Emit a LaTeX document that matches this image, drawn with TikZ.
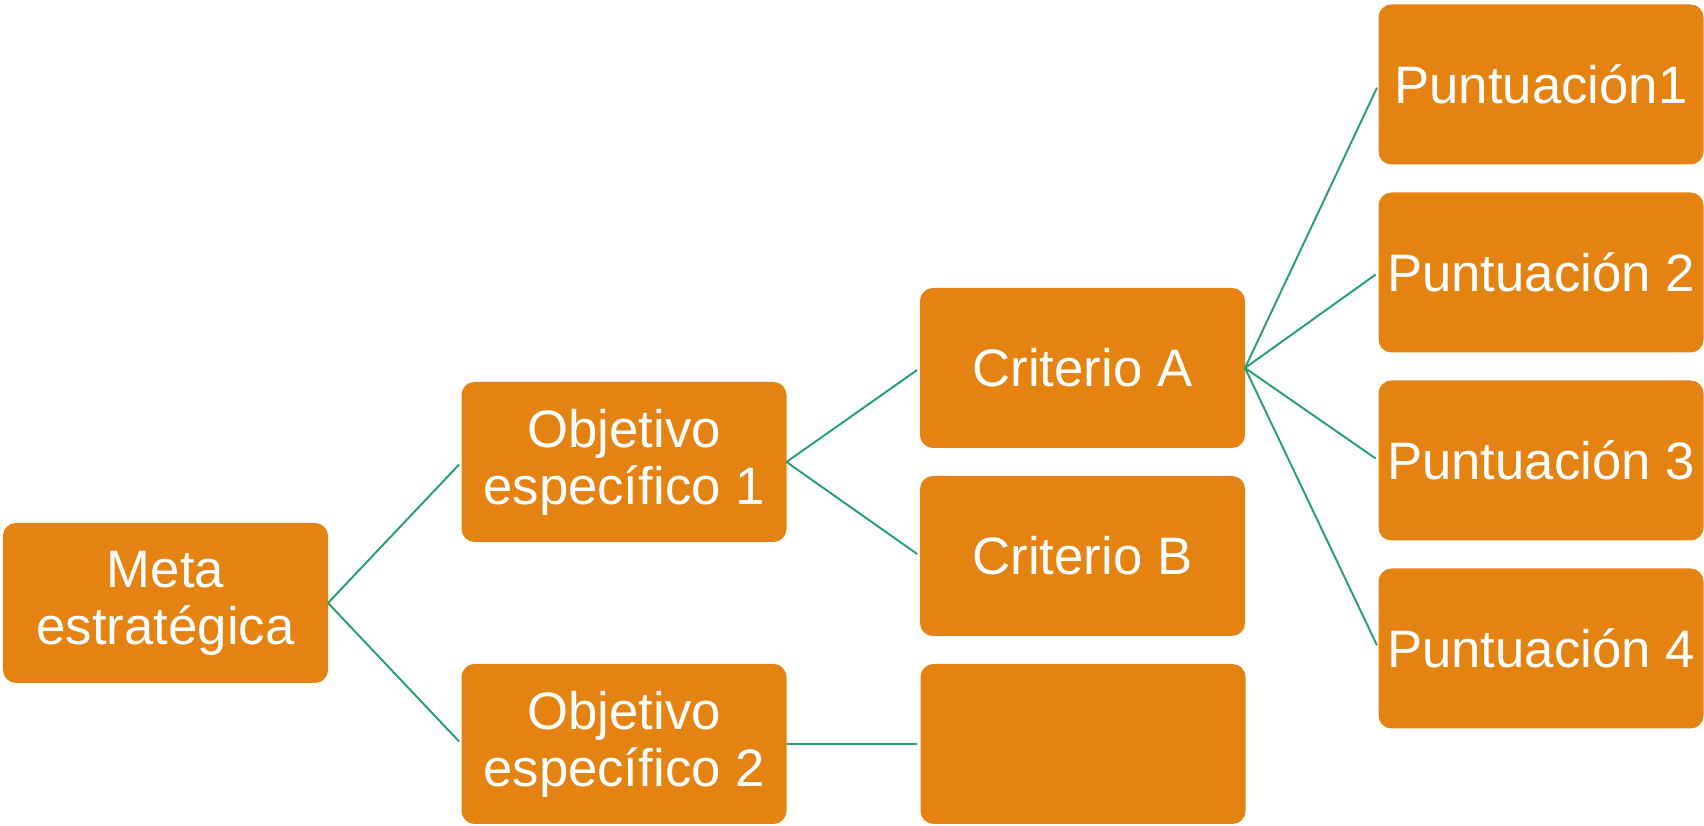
\documentclass[tikz,border=0pt]{standalone}
\usepackage{fontspec}
\setmainfont{Liberation Sans}
\usetikzlibrary{positioning}
\definecolor{boxorange}{RGB}{228,131,18}
\definecolor{linkgreen}{RGB}{36,158,118}

\begin{document}
\begin{tikzpicture}[node distance = 2.68cm,
BoxStyle/.style={draw=none, fill=boxorange, text=white, rounded corners=0.26cm,
                minimum width=6.5cm, minimum height=3.2cm, align=center,
                font=\fontsize{30}{32.5}\selectfont, inner sep=0pt, outer sep=0pt},
LinkStyle/.style={draw=linkgreen, line width=1.1pt, shorten >=2pt},]
\useasboundingbox (0,0) rectangle (34.08,16.52);
\node [BoxStyle] at (3.31, 4.46) (m1) {Meta\\estratégica};
\node [BoxStyle] at (12.48, 7.28) (o1) {Objetivo\\específico 1};
\node [BoxStyle] at (12.48, 1.64) (o2) {Objetivo\\específico 2};
\node [BoxStyle] at (21.65, 9.16) (c1) {Criterio A};
\node [BoxStyle] at (21.65, 5.40) (c2) {Criterio B};
\node [BoxStyle, right=of o2] (c3) {};
\node [BoxStyle] at (30.82, 14.83) (p1) {Puntuación1};
\node [BoxStyle, below=0.56cm of p1] (p2) {Puntuación 2};
\node [BoxStyle, below=0.56cm of p2] (p3) {Puntuación 3};
\node [BoxStyle, below=0.56cm of p3] (p4) {Puntuación 4};

\draw [LinkStyle] (m1.east)--(o1.west);
\draw [LinkStyle] (m1.east)--(o2.west);
\draw [LinkStyle] (o1.east)--(c1.west);
\draw [LinkStyle] (o1.east)--(c2.west);
\draw [LinkStyle] (o2.east)--(c3.west);
\draw [LinkStyle] (c1.east)--(p1.west);
\draw [LinkStyle] (c1.east)--(p2.west);
\draw [LinkStyle] (c1.east)--(p3.west);
\draw [LinkStyle] (c1.east)--(p4.west);
\end{tikzpicture}
\end{document}
